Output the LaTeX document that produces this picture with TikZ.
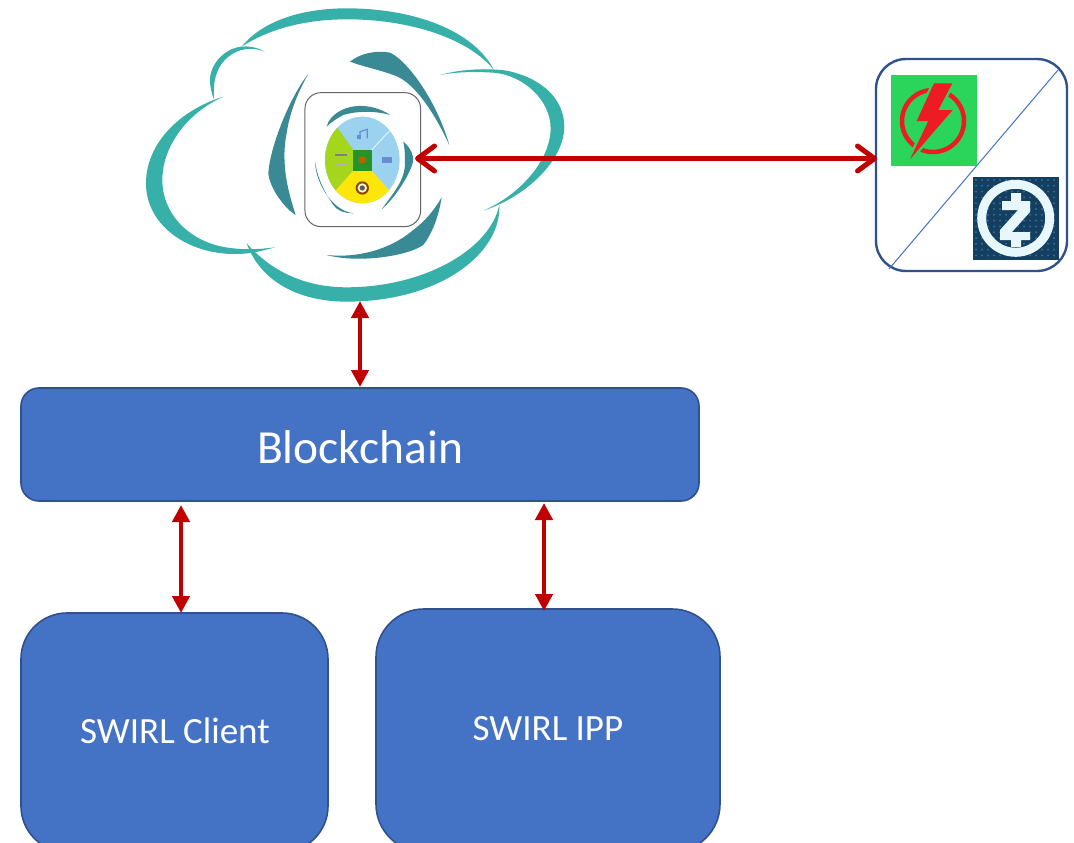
\documentclass[tikz,border=0pt]{standalone}
\usepackage{fontspec}
\setmainfont{Carlito}
\usetikzlibrary{arrows.meta}
\definecolor{boxblue}{HTML}{4472C4}
\definecolor{boxedge}{HTML}{2F528F}
\definecolor{arrowred}{HTML}{C00000}
\definecolor{cloudteal}{HTML}{36B0A8}
\definecolor{bladeteal}{HTML}{3A8A95}
\definecolor{discblue}{HTML}{9AD2F0}
\definecolor{discgreen}{HTML}{A4D61E}
\definecolor{discyellow}{HTML}{FFE60A}
\definecolor{boltgreen}{HTML}{2BD55B}
\definecolor{boltred}{HTML}{ED1C24}
\definecolor{zdark}{HTML}{143F60}
\definecolor{zdot}{HTML}{2F6F9A}
\definecolor{zlight}{HTML}{E8F7FB}
\tikzset{
  bluebox/.style={draw=boxedge,line width=1.6pt,fill=boxblue,text=white,inner sep=0pt},
  link/.style={draw=arrowred,line width=4.5pt,{Triangle[length=17pt,width=17pt]}-{Triangle[length=17pt,width=17pt]}},
  biglink/.style={draw=arrowred,line width=5.5pt,{Straight Barb[length=17pt,width=25pt,line width=5pt,round]}-{Straight Barb[length=17pt,width=25pt,line width=5pt,round]}},
  crescent/.style={fill=cloudteal,draw=none},
  blade/.style={fill=bladeteal,draw=none}
}
\begin{document}
\begin{tikzpicture}[x=1pt,y=-1pt]
\useasboundingbox (0,0) rectangle (1074,843);
\fill[white] (0,0) rectangle (1074,843);
% cloud (coordinates are those of a 3x crop)
\begin{scope}[x=0.3333pt,y=-0.3333pt,shift={(390,0)}]
\path[crescent] (335,140) .. controls (400,60) and (520,25) .. (650,25) .. controls (850,25) and (1030,90) .. (1092,210) .. controls (1020,120) and (850,58) .. (650,58) .. controls (530,58) and (420,85) .. (335,140) -- cycle;
\path[crescent] (930,225) .. controls (1000,205) and (1080,205) .. (1130,212) .. controls (1240,235) and (1303,300) .. (1303,380) .. controls (1303,480) and (1190,590) .. (1060,632) .. controls (1170,585) and (1262,480) .. (1262,385) .. controls (1262,300) and (1180,225) .. (1090,218) .. controls (1040,215) and (980,215) .. (930,225) -- cycle;
\path[crescent] (1108,615) .. controls (1115,760) and (930,905) .. (650,905) .. controls (500,905) and (390,840) .. (350,730) .. controls (420,810) and (520,862) .. (650,862) .. controls (880,862) and (1080,750) .. (1108,615) -- cycle;
\path[crescent] (280,290) .. controls (150,330) and (48,430) .. (48,550) .. controls (48,680) and (180,765) .. (320,762) .. controls (360,762) and (400,752) .. (435,742) .. controls (390,748) and (350,750) .. (310,745) .. controls (190,735) and (97,650) .. (97,540) .. controls (97,440) and (170,340) .. (280,290) -- cycle;
\path[crescent] (405,155) .. controls (370,135) and (330,135) .. (300,150) .. controls (260,170) and (240,210) .. (240,240) .. controls (240,260) and (245,280) .. (252,298) .. controls (248,240) and (260,190) .. (310,160) .. controls (340,143) and (375,143) .. (405,155) -- cycle;
% blades
\path[blade] (660,185) .. controls (690,160) and (740,150) .. (780,158) .. controls (830,180) and (920,300) .. (958,435) .. controls (900,310) and (840,240) .. (790,225) .. controls (750,210) and (700,200) .. (660,185) -- cycle;
\path[blade] (535,222) .. controls (480,290) and (420,440) .. (415,520) .. controls (420,570) and (470,630) .. (497,645) .. controls (480,590) and (450,500) .. (470,400) .. controls (480,330) and (510,265) .. (535,222) -- cycle;
\path[blade] (935,592) .. controls (925,660) and (900,710) .. (880,735) .. controls (830,770) and (680,790) .. (590,765) .. controls (680,775) and (780,750) .. (850,690) .. controls (890,660) and (920,620) .. (935,592) -- cycle;
% inner frame
\draw[draw=black!60,line width=1pt,rounded corners=16pt] (525,278) rectangle (872,680);
\path[blade] (590,380) .. controls (600,340) and (650,315) .. (700,318) .. controls (730,320) and (760,330) .. (780,345) .. controls (730,330) and (670,335) .. (640,345) .. controls (620,355) and (600,370) .. (590,380) -- cycle;
\path[blade] (820,425) .. controls (840,440) and (855,470) .. (848,490) .. controls (840,520) and (800,590) .. (755,628) .. controls (790,580) and (825,540) .. (825,490) .. controls (825,470) and (825,445) .. (820,425) -- cycle;
\path[blade] (555,482) .. controls (555,540) and (600,630) .. (670,640) .. controls (640,640) and (620,630) .. (610,615) .. controls (585,580) and (560,530) .. (555,482) -- cycle;
% disc
\begin{scope}
\clip (697,480) ellipse [x radius=112,y radius=130];
\fill[discblue] (500,250) rectangle (900,700);
\fill[discgreen] (670,450) -- (624,385) -- (540,330) -- (540,650) -- (620,570) -- (670,512) -- cycle;
\fill[discyellow] (670,512) -- (725,512) -- (790,585) -- (790,650) -- (600,650) -- (605,585) -- cycle;
\draw[white!70!discblue,line width=1pt] (725,450) -- (790,380);
\end{scope}
\fill[green!50!black!85] (670,450) rectangle (725,512);
\fill[orange!75!black] (697,480) circle (11);
\draw[boxblue!80,line width=1.2pt] (690,418) -- (690,395) -- (712,388) -- (712,415);
\fill[boxblue!80] (680,405) rectangle (692,418);
\fill[boxblue!80] (755,472) rectangle (785,490);
\fill[black!50] (615,462) rectangle (650,468);
\fill[black!30] (615,492) rectangle (650,497);
\fill[black!45!orange] (697,564) circle (20);
\fill[white!80!yellow] (697,564) circle (14);
\fill[black!65] (697,564) circle (8);
\end{scope}
\coordinate (cloudleft) at (415,158.5);
\coordinate (cloudbottom) at (360,301);
% right icon box
\node[draw=boxedge,line width=2.4pt,rounded corners=30pt,minimum width=191pt,minimum height=212pt,inner sep=0pt] (icons) at (971.5,165) {};
\draw[boxblue,line width=1pt] (1058,70) -- (889,269);
\fill[boltgreen] (891,75) rectangle (977,166);
\draw[boltred,line width=4.5pt] (933,121) circle (31);
\path[draw=boltgreen,fill=boltgreen,line width=5pt,line join=round] (934,83.3) -- (952.3,83.3) -- (938.3,110) -- (952.7,110) -- (910,159.3) -- (928.3,121) -- (916.7,121) -- cycle;
\fill[boltred] (934,83.3) -- (952.3,83.3) -- (938.3,110) -- (952.7,110) -- (910,159.3) -- (928.3,121) -- (916.7,121) -- cycle;
\fill[zdark] (973,177) rectangle (1059,260);
\foreach \i in {0,...,13}{\foreach \j in {0,...,13}{\fill[zdot] (976+6*\i,180+5.8*\j) circle (1.1);}}
\draw[zlight,line width=9pt] (1015.7,218.3) circle (34);
\fill[zlight] (1011,193) -- (1021,193) -- (1021,201) -- (1030,201) -- (1030,212) -- (1012,232) -- (1030,232) -- (1030,240) -- (1021,240) -- (1021,247) -- (1011,247) -- (1011,240) -- (1000,240) -- (1000,230) -- (1018,210) -- (1002,210) -- (1002,201) -- (1011,201) -- cycle;
% boxes
\node[bluebox,rounded corners=18pt,minimum width=678pt,minimum height=113pt] (chain) at (360,444.5) {};
\node[text=white,font=\fontsize{47.5}{52}\selectfont] (chainlabel) at (360,447) {Blockchain};
\node[bluebox,rounded corners=46pt,minimum width=307pt,minimum height=239pt] (client) at (174.5,732.5) {};
\node[text=white,font=\fontsize{37}{42}\selectfont] (clientlabel) at (175,731) {SWIRL Client};
\node[bluebox,rounded corners=48pt,minimum width=344pt,minimum height=243pt] (ipp) at (548,730.5) {};
\node[text=white,font=\fontsize{37}{42}\selectfont] (ipplabel) at (548,729) {SWIRL IPP};
% connectors
\coordinate (chaintop) at (360,387);
\coordinate (chainA) at (181,505);
\coordinate (chainB) at (544,503);
\coordinate (clienttop) at (181,613);
\coordinate (ipptop) at (544,611);
\coordinate (iconsleft) at (877,158.5);
\draw[link] (cloudbottom) -- (chaintop);
\draw[link] (chainA) -- (clienttop);
\draw[link] (chainB) -- (ipptop);
\draw[biglink] (cloudleft) -- (iconsleft);
\end{tikzpicture}
\end{document}
